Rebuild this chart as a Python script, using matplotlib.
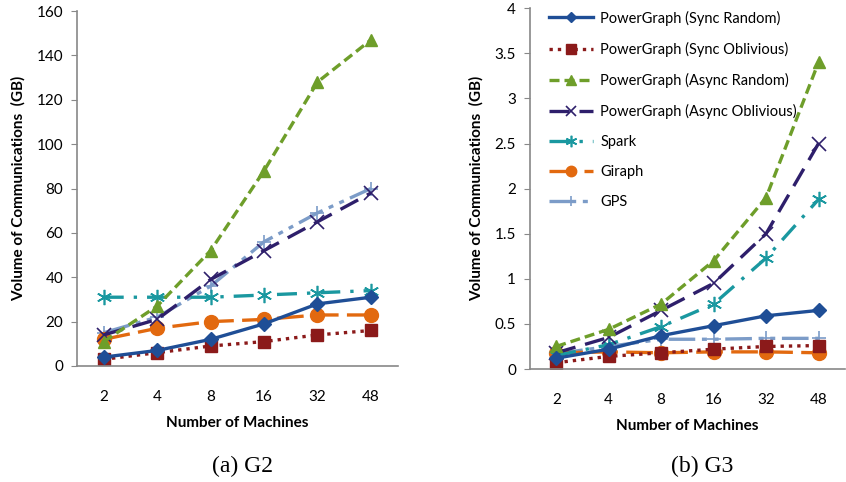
import matplotlib.pyplot as plt
import numpy as np

plt.rcParams['font.family'] = ['Lato', 'DejaVu Sans']

machines = ['2', '4', '8', '16', '32', '48']
series_names = ['PowerGraph (Sync Random)', 'PowerGraph (Sync Oblivious)',
                'PowerGraph (Async Random)', 'PowerGraph (Async Oblivious)',
                'Spark', 'Giraph', 'GPS']

# volume of communications in GB, graph G2
g2_sync_random = [4, 7, 12, 19, 28, 31]
g2_sync_oblivious = [3, 6, 9, 11, 14, 16]
g2_async_random = [11, 27, 52, 88, 128, 147]
g2_async_oblivious = [14, 21, 39, 52, 65, 78]
g2_spark = [31, 31, 31, 32, 33, 34]
g2_giraph = [12, 17, 20, 21, 23, 23]
g2_gps = [15, 22, 36, 56, 69, 80]

# graph G3
g3_sync_random = [0.12, 0.22, 0.37, 0.48, 0.59, 0.65]
g3_sync_oblivious = [0.07, 0.14, 0.18, 0.22, 0.25, 0.26]
g3_async_random = [0.25, 0.44, 0.72, 1.2, 1.9, 3.4]
g3_async_oblivious = [0.18, 0.35, 0.65, 0.95, 1.5, 2.5]
g3_spark = [0.15, 0.27, 0.47, 0.72, 1.23, 1.88]
g3_giraph = [0.18, 0.19, 0.18, 0.19, 0.19, 0.18]
g3_gps = [0.17, 0.25, 0.33, 0.33, 0.34, 0.34]

styles = [
    dict(color='#1F4E96', ls='-', marker='D', ms=7),
    dict(color='#8B1A1A', ls=(0, (1, 1.5)), marker='s', ms=9),
    dict(color='#6E9E2A', ls=(0, (3, 1.5)), marker='^', ms=9),
    dict(color='#2E1F6B', ls=(0, (6, 3)), marker='x', ms=10, mew=1.2),
    dict(color='#1A98A0', ls=(0, (6, 3, 1, 3)), marker=(6, 2, 0), ms=11, mew=1.2),
    dict(color='#E2690F', ls=(0, (8, 2.5)), marker='o', ms=10),
    dict(color='#7C9CC8', ls=(0, (8, 2, 1.5, 2, 1.5, 2)), marker='+', ms=10, mew=1.2),
]

g2 = [g2_sync_random, g2_sync_oblivious, g2_async_random, g2_async_oblivious,
      g2_spark, g2_giraph, g2_gps]
g3 = [g3_sync_random, g3_sync_oblivious, g3_async_random, g3_async_oblivious,
      g3_spark, g3_giraph, g3_gps]

fig = plt.figure(figsize=(8.46, 4.82), dpi=100)
ax1 = fig.add_axes([0.091, 0.2407, 0.379, 0.7363])
ax2 = fig.add_axes([0.6265, 0.2344, 0.372, 0.7486])

x = np.arange(len(machines))
draw_order = [6, 5, 4, 3, 2, 1, 0]


def draw(ax, data, ymax, step, fmt):
    lines = {}
    for i in draw_order:
        st = styles[i]
        ln, = ax.plot(x, data[i], color=st['color'], ls=st['ls'], lw=2.4,
                      marker=st['marker'], ms=st['ms'], mew=st.get('mew', 1),
                      mfc=st['color'], mec=st['color'], label=series_names[i])
        lines[i] = ln
    ax.set_xlim(-0.5, 5.5)
    ax.set_ylim(0, ymax)
    ticks = np.arange(0, ymax + step / 2, step)
    ax.set_yticks(ticks)
    ax.set_yticklabels([fmt(v) for v in ticks], fontsize=11)
    ax.set_xticks(x)
    ax.set_xticklabels(machines, fontsize=11)
    ax.tick_params(axis='x', length=0, pad=17)
    ax.tick_params(axis='y', length=4, color='#888888', pad=6)
    for s in ['top', 'right']:
        ax.spines[s].set_visible(False)
    for s in ['left', 'bottom']:
        ax.spines[s].set_color('#888888')
        ax.spines[s].set_linewidth(1.2)
    ax.set_ylabel('Volume of Communications  (GB)', fontsize=11,
                  fontweight='bold', labelpad=8)
    ax.set_xlabel('Number of Machines', fontsize=11, fontweight='bold',
                  labelpad=9)
    return lines


draw(ax1, g2, 160, 20, lambda v: '%d' % v)
lines = draw(ax2, g3, 4, 0.5, lambda v: ('%g' % v))

ax2.legend([lines[i] for i in range(7)], series_names, loc='upper left',
           bbox_to_anchor=(0.02, 1.03), frameon=False, fontsize=10.5,
           handlelength=3.0, labelspacing=1.1, handletextpad=0.5,
           markerscale=0.75)

fig.text(0.287, 0.02, '(a) G2', ha='center', family='Liberation Serif',
         fontsize=17)
fig.text(0.83, 0.02, '(b) G3', ha='center', family='Liberation Serif',
         fontsize=17)

plt.savefig('out.png', dpi=100)
